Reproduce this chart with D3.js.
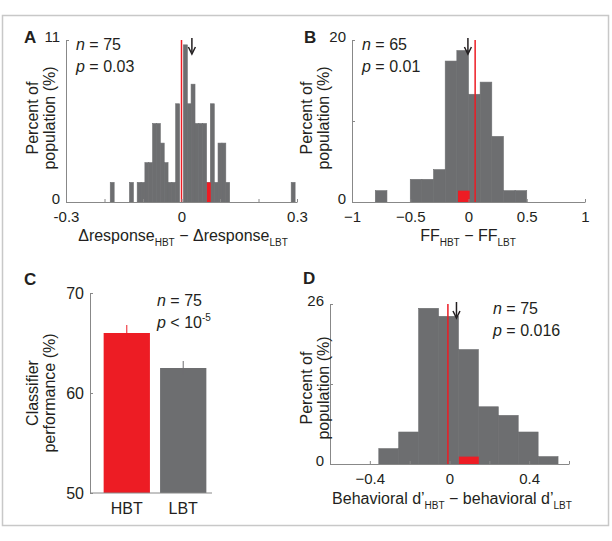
<!DOCTYPE html>
<html>
<head>
<meta charset="utf-8">
<script src="https://cdn.jsdelivr.net/npm/d3@7"></script>
<style>
  body { margin: 0; background: #fff; }
  text { font-family: Arial, "Liberation Sans", sans-serif; fill: #231f20; }
</style>
</head>
<body>
<svg id="fig" width="612" height="541"></svg>
<script>
// Panel A: histogram of response differences (bin centres, percent of population)
const aCenters = [-0.18, -0.13, -0.11, -0.10, -0.09, -0.08, -0.07, -0.06, -0.05, -0.04, -0.03, -0.02, -0.01,
  0.01, 0.02, 0.03, 0.04, 0.05, 0.06, 0.07, 0.08, 0.09, 0.10, 0.11, 0.12, 0.29];
const aPercent = [1.33, 1.33, 1.33, 1.33, 2.67, 2.67, 5.33, 5.33, 4.0, 2.67, 1.33, 1.33, 6.67,
  10.67, 6.67, 8.0, 5.33, 5.33, 5.33, 1.33, 6.67, 1.33, 4.0, 4.0, 1.33, 1.33];
const aBinWidth = 0.0102;

// Panel B: Fano factor differences
const bCenters = [-0.75, -0.45, -0.35, -0.25, -0.15, -0.05, 0.05, 0.15, 0.25, 0.35, 0.45];
const bPercent = [1.4, 2.8, 2.8, 4.0, 17.4, 18.7, 13.3, 14.8, 8.1, 1.4, 1.4];

// Panel C: classifier performance
const cLabels = ["HBT", "LBT"];
const cValues = [66.0, 62.5];
const cErrors = [0.8, 0.7];

// Panel D: behavioral d' differences
const dCenters = [-0.305, -0.205, -0.105, -0.005, 0.095, 0.195, 0.295, 0.395, 0.495];
const dPercent = [2.5, 5.2, 25.3, 24.0, 18.6, 9.3, 7.9, 5.2, 1.2];

const gray = "#6d6e70", red = "#ed1c24";
const svg = d3.select("#fig");

svg.append("rect").attr("x", 2.5).attr("y", 15.5).attr("width", 606).attr("height", 510)
  .attr("fill", "none").attr("stroke", "#c8c8c8").attr("stroke-width", 1.5);

function styleAxis(g) {
  g.selectAll("path, line").attr("stroke", "#888");
  g.selectAll("text").attr("font-size", 15).attr("fill", "#231f20")
    .attr("font-family", "Arial, 'Liberation Sans', sans-serif");
}

function histPanel(o) {
  const x = d3.scaleLinear().domain(o.xDomain).range(o.xRange);
  const y = d3.scaleLinear().domain(o.yDomain).range(o.yRange);
  const g = svg.append("g");
  g.selectAll("rect.bar").data(o.centers).join("rect")
    .attr("x", (c) => x(c - o.bw / 2))
    .attr("width", (c) => x(c + o.bw / 2) - x(c - o.bw / 2))
    .attr("y", (c, i) => y(o.values[i]))
    .attr("height", (c, i) => y(0) - y(o.values[i]))
    .attr("fill", gray).attr("stroke", gray).attr("stroke-width", 0.6);
  // red marker
  g.append("rect").attr("x", x(o.redBin[0])).attr("width", x(o.redBin[1]) - x(o.redBin[0]))
    .attr("y", y(o.redBin[2])).attr("height", y(0) - y(o.redBin[2])).attr("fill", red);
  // red line
  g.append("line").attr("x1", x(o.redLine)).attr("x2", x(o.redLine))
    .attr("y1", y(0)).attr("y2", y(o.yDomain[1])).attr("stroke", red).attr("stroke-width", 1.5);
  // arrow
  const ax = x(o.arrow), at = y(o.yDomain[1]) - 2;
  g.append("line").attr("x1", ax).attr("x2", ax).attr("y1", at).attr("y2", at + 14)
    .attr("stroke", "#231f20").attr("stroke-width", 1.5);
  g.append("path").attr("d", `M${ax - 3.5},${at + 9} L${ax},${at + 16} L${ax + 3.5},${at + 9}`)
    .attr("fill", "none").attr("stroke", "#231f20").attr("stroke-width", 1.5);
  const xa = g.append("g").attr("transform", `translate(0,${y(0)})`)
    .call(d3.axisBottom(x).tickValues(o.xTicks).tickFormat(o.xFmt).tickSize(-3).tickPadding(9).tickSizeOuter(0));
  styleAxis(xa);
  const ya = g.append("g").attr("transform", `translate(${o.xRange[0]},0)`)
    .call(d3.axisLeft(y).tickValues(o.yTicks).tickFormat((d) => o.yLabels.includes(d) ? d : "").tickSize(-3).tickPadding(6).tickSizeOuter(0));
  styleAxis(ya);
  ya.selectAll(".tick text").attr("dy", "0.1em");
  return { x, y };
}

function ylab(cx, cy, lines) {
  const t = svg.append("text").attr("transform", `translate(${cx},${cy}) rotate(-90)`)
    .attr("text-anchor", "middle").attr("font-size", 16);
  lines.forEach((l, i) => t.append("tspan").attr("x", 0).attr("dy", i ? 17 : 0).text(l));
}

function stats(x0, y0, n, p, sup) {
  const t1 = svg.append("text").attr("x", x0).attr("y", y0).attr("font-size", 16);
  t1.append("tspan").attr("font-style", "italic").text("n");
  t1.append("tspan").text(" = " + n);
  const t2 = svg.append("text").attr("x", x0).attr("y", y0 + 22).attr("font-size", 16);
  t2.append("tspan").attr("font-style", "italic").text("p");
  t2.append("tspan").text(p);
  if (sup) t2.append("tspan").attr("font-size", 10).attr("dy", -7).text(sup);
}

function letter(x0, y0, s) {
  svg.append("text").attr("x", x0).attr("y", y0).attr("font-size", 17).attr("font-weight", "bold").text(s);
}

function subLabel(cx, cy, parts) {
  const t = svg.append("text").attr("x", cx).attr("y", cy).attr("text-anchor", "middle").attr("font-size", 16);
  let sub = false;
  parts.forEach(([s, isSub]) => {
    const ts = t.append("tspan").text(s).attr("dy", isSub && !sub ? 5 : (!isSub && sub ? -5 : 0));
    if (isSub) ts.attr("font-size", 10);
    sub = isSub;
  });
}

// Panel A
histPanel({
  centers: aCenters, values: aPercent, bw: aBinWidth,
  xDomain: [-0.3, 0.3], xRange: [66, 297], yDomain: [0, 11], yRange: [202, 40],
  xTicks: [-0.3, -0.2, -0.1, 0, 0.1, 0.2, 0.3], xFmt: (d) => [-0.3, 0, 0.3].includes(d) ? (d === 0 ? "0" : d.toFixed(1)) : "",
  yTicks: [0, 11], yLabels: [0, 11],
  redBin: [0.066, 0.076, 1.33], redLine: 0, arrow: 0.027
});
letter(24, 43, "A");
ylab(38, 118, ["Percent of", "population (%)"]);
stats(76, 50, 75, " = 0.03");
subLabel(183, 241, [["\u0394response", false], ["HBT", true], [" \u2212 \u0394response", false], ["LBT", true]]);

// Panel B
histPanel({
  centers: bCenters, values: bPercent, bw: 0.1,
  xDomain: [-1, 1], xRange: [352, 585], yDomain: [0, 20], yRange: [202, 40],
  xTicks: [-1, -0.5, 0, 0.5, 1], xFmt: (d) => d === 0 ? "0" : (Number.isInteger(d) ? String(d).replace("-", "\u2212") : d.toFixed(1).replace("-", "\u2212")),
  yTicks: [0, 10, 20], yLabels: [0, 20],
  redBin: [-0.09, 0.01, 1.4], redLine: 0.057, arrow: -0.005
});
letter(304, 43, "B");
ylab(312, 118, ["Percent of", "population (%)"]);
stats(362, 50, 65, " = 0.01");
subLabel(468, 241, [["FF", false], ["HBT", true], [" \u2212 FF", false], ["LBT", true]]);

// Panel C
const cx = d3.scaleBand().domain(cLabels).range([98, 212]).paddingInner(0.18).paddingOuter(0.1);
const cy = d3.scaleLinear().domain([50, 70]).range([493, 293]);
svg.append("g").selectAll("rect").data(cLabels).join("rect")
  .attr("x", (d) => cx(d)).attr("width", cx.bandwidth())
  .attr("y", (d, i) => cy(cValues[i])).attr("height", (d, i) => cy(50) - cy(cValues[i]))
  .attr("fill", (d, i) => i === 0 ? red : gray);
svg.append("g").selectAll("line").data(cLabels).join("line")
  .attr("x1", (d) => cx(d) + cx.bandwidth() / 2).attr("x2", (d) => cx(d) + cx.bandwidth() / 2)
  .attr("y1", (d, i) => cy(cValues[i] - cErrors[i])).attr("y2", (d, i) => cy(cValues[i] + cErrors[i]))
  .attr("stroke", (d, i) => i === 0 ? red : gray).attr("stroke-width", 1);
const cxa = svg.append("g").attr("transform", `translate(0,${cy(50)})`)
  .call(d3.axisBottom(cx).tickSize(0).tickPadding(10));
cxa.select(".domain").attr("d", "M90,0H212");
styleAxis(cxa);
cxa.selectAll("text").attr("font-size", 16);
const cya = svg.append("g").attr("transform", "translate(90,0)")
  .call(d3.axisLeft(cy).tickValues([50, 60, 70]).tickSize(-3).tickPadding(6).tickSizeOuter(0));
styleAxis(cya);
cya.selectAll("text").attr("font-size", 16);
letter(24, 285, "C");
ylab(38, 393, ["Classifier", "performance (%)"]);
stats(157, 306, 75, " < 10", "-5");

// Panel D
histPanel({
  centers: dCenters, values: dPercent, bw: 0.1,
  xDomain: [-0.6, 0.6], xRange: [330, 569], yDomain: [0, 26], yRange: [464, 304],
  xTicks: [-0.6, -0.4, -0.2, 0, 0.2, 0.4, 0.6], xFmt: (d) => d === 0 ? "0" : ([-0.4, 0.4].includes(d) ? d.toFixed(1).replace("-", "\u2212") : ""),
  yTicks: [0, 13, 26], yLabels: [0, 26],
  redBin: [0.047, 0.147, 1.2], redLine: -0.008, arrow: 0.035
});
letter(303, 284, "D");
ylab(312, 388, ["Percent of", "population (%)"]);
stats(493, 314, 75, " = 0.016");
subLabel(452, 504, [["Behavioral d\u2019", false], ["HBT", true], [" \u2212 behavioral d\u2019", false], ["LBT", true]]);
</script>
</body>
</html>
